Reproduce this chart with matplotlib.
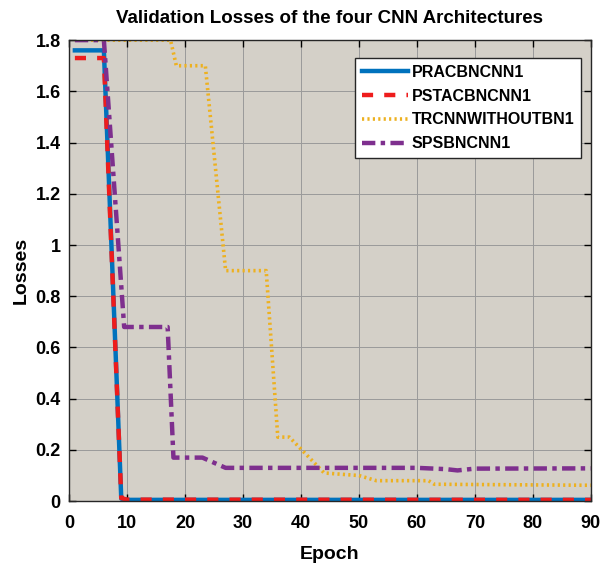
import matplotlib
matplotlib.use('Agg')
import matplotlib.pyplot as plt

# Validation losses per epoch (breakpoints)
prac_x = [1, 6, 9, 10, 90]
prac_y = [1.76, 1.76, 0.01, 0.005, 0.005]

psta_x = [1, 6, 9, 10, 90]
psta_y = [1.73, 1.73, 0.012, 0.006, 0.005]

trcnn_x = [1, 17.5, 18.5, 23.5, 27, 34, 36, 38, 41, 44, 50, 53, 62, 63, 90]
trcnn_y = [1.8, 1.8, 1.7, 1.7, 0.9, 0.9, 0.25, 0.25, 0.18, 0.11, 0.1, 0.08, 0.08, 0.066, 0.062]

spsb_x = [1, 6, 9.5, 17, 18, 23, 25, 27, 40, 60, 65, 67, 70, 90]
spsb_y = [1.8, 1.8, 0.68, 0.68, 0.17, 0.17, 0.15, 0.13, 0.13, 0.13, 0.125, 0.12, 0.127, 0.128]

names = ['PRACBNCNN1', 'PSTACBNCNN1', 'TRCNNWITHOUTBN1', 'SPSBNCNN1']
x_ticks = [0, 10, 20, 30, 40, 50, 60, 70, 80, 90]
y_ticks = [0, 0.2, 0.4, 0.6, 0.8, 1, 1.2, 1.4, 1.6, 1.8]
y_labels = ['0', '0.2', '0.4', '0.6', '0.8', '1', '1.2', '1.4', '1.6', '1.8']

plt.rcParams['font.family'] = ['Liberation Sans', 'DejaVu Sans']
plt.rcParams['font.weight'] = 'bold'

fig = plt.figure(figsize=(6.06, 5.65), dpi=100)
ax = fig.add_axes([0.114, 0.113, 0.861, 0.816])
ax.set_facecolor('#d4d0c8')

ax.plot(prac_x, prac_y, color='#0072bd', lw=3.2, ls='-', label=names[0])
ax.plot(psta_x, psta_y, color='#ee1c1c', lw=3.2, ls=(0, (2.5, 2.5)), label=names[1])
ax.plot(trcnn_x, trcnn_y, color='#edb120', lw=2.6, ls=(0, (0.6, 0.9)), label=names[2])
ax.plot(spsb_x, spsb_y, color='#7e2f8e', lw=3.2, ls=(0, (3, 1.2, 1, 1.2)), label=names[3])

ax.set_xlim(0, 90)
ax.set_ylim(0, 1.8)
ax.set_xticks(x_ticks)
ax.set_yticks(y_ticks)
ax.set_yticklabels(y_labels)
ax.tick_params(direction='in', length=5, width=1, labelsize=13, top=True, right=True, pad=6)
ax.tick_params(axis='x', pad=10)
ax.grid(True, color='#9a9a9a', lw=0.7)
ax.set_axisbelow(True)
for s in ax.spines.values():
    s.set_linewidth(1.0)
    s.set_color('#262626')

ax.set_title('Validation Losses of the four CNN Architectures', fontsize=13.5, fontweight='bold', pad=12)
ax.set_xlabel('Epoch', fontsize=14, fontweight='bold', labelpad=10)
ax.set_ylabel('Losses', fontsize=14, fontweight='bold', labelpad=4)

leg = ax.legend(loc='upper right', bbox_to_anchor=(0.982, 0.962), fontsize=11.5, frameon=True,
                fancybox=False, framealpha=1, edgecolor='#262626', handlelength=2.9,
                handletextpad=0.2, borderpad=0.45, labelspacing=0.55, borderaxespad=0)
leg.get_frame().set_linewidth(1.0)

plt.savefig('out.png', dpi=100)
plt.close()
